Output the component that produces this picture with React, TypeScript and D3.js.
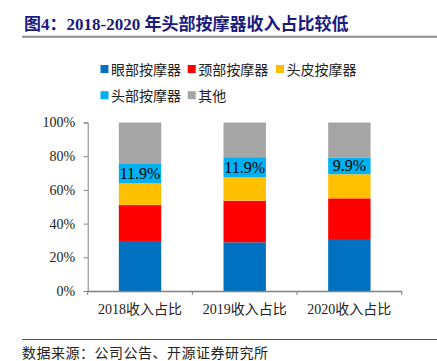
import { useEffect, useRef } from 'react'
import * as d3 from 'd3'

const categories = ['2018收入占比', '2019收入占比', '2020收入占比']
const seriesNames = ['眼部按摩器', '颈部按摩器', '头皮按摩器', '头部按摩器', '其他']
const eyeValues = [29.7, 28.9, 30.3]
const neckValues = [21.3, 24.7, 24.7]
const scalpValues = [12.9, 13.9, 14.3]
const headValues = [11.9, 11.9, 9.9]
const otherValues = [24.2, 20.6, 20.8]
const headLabels = ['11.9%', '11.9%', '9.9%']
const yTicks = [0, 20, 40, 60, 80, 100]

const COLORS = ['#0070C0', '#FF0000', '#FFC000', '#00B0F0', '#A5A5A5']
const SERIF = '"Liberation Serif", "Times New Roman", "Noto Sans CJK SC", serif'

export default function App() {
  const svgRef = useRef<SVGSVGElement>(null)

  useEffect(() => {
    if (!svgRef.current) return
    const svg = d3.select(svgRef.current)
    svg.selectAll('*').remove()

    const W = 437
    const H = 361
    const plot = { left: 87.7, right: 401.7, top: 122.5, bottom: 291 }

    // Title
    svg.append('text').attr('x', 24).attr('y', 30)
      .attr('fill', '#1a1a80').attr('font-size', 17).attr('font-weight', 'bold')
      .attr('font-family', SERIF).text('图4：2018-2020 年头部按摩器收入占比较低')
    svg.append('line').attr('x1', 22).attr('x2', W).attr('y1', 36.7).attr('y2', 36.7)
      .attr('stroke', '#8c8c8c').attr('stroke-width', 2)

    // Legend
    const legendItems = [
      { i: 0, x: 100.5, y: 69.5 },
      { i: 1, x: 187.7, y: 69.5 },
      { i: 2, x: 276, y: 69.5 },
      { i: 3, x: 100.5, y: 95.7 },
      { i: 4, x: 187.7, y: 95.7 },
    ]
    const leg = svg.append('g')
    legendItems.forEach(d => {
      leg.append('rect').attr('x', d.x).attr('y', d.y - 4.5).attr('width', 8).attr('height', 8)
        .attr('fill', COLORS[d.i])
      leg.append('text').attr('x', d.x + 10.5).attr('y', d.y + 5)
        .attr('font-size', 14).attr('font-family', SERIF).attr('fill', '#222')
        .text(seriesNames[d.i])
    })

    const x = d3.scaleBand<string>().domain(categories).range([plot.left, plot.right]).padding(0)
    const y = d3.scaleLinear().domain([0, 100]).range([plot.bottom, plot.top])

    const table = categories.map((c, i) => ({
      cat: c,
      s0: eyeValues[i], s1: neckValues[i], s2: scalpValues[i], s3: headValues[i], s4: otherValues[i],
    }))
    const stack = d3.stack<typeof table[number]>().keys(['s0', 's1', 's2', 's3', 's4'])
    const layers = stack(table)

    const barW = x.bandwidth() * 0.405
    const g = svg.append('g')
    layers.forEach((layer, li) => {
      g.selectAll(null).data(layer).enter().append('rect')
        .attr('x', d => x(d.data.cat)! + (x.bandwidth() - barW) / 2)
        .attr('width', barW)
        .attr('y', d => y(d[1]))
        .attr('height', d => y(d[0]) - y(d[1]))
        .attr('fill', COLORS[li])
    })

    // Labels on head massager segment
    const headLayer = layers[3]
    g.selectAll(null).data(headLayer).enter().append('text')
      .attr('x', d => x(d.data.cat)! + x.bandwidth() / 2)
      .attr('y', d => (y(d[0]) + y(d[1])) / 2 + 5.5)
      .attr('text-anchor', 'middle').attr('font-size', 16).attr('font-family', SERIF)
      .attr('fill', '#000')
      .text((_, i) => headLabels[i])

    // Y axis
    const yAxis = svg.append('g').attr('transform', `translate(${plot.left},0)`)
      .call(d3.axisLeft(y).tickValues(yTicks).tickSize(4).tickFormat(d => `${d}%`))
    yAxis.select('.domain').attr('stroke', '#808080')
    yAxis.selectAll('.tick line').attr('stroke', '#808080')
    yAxis.selectAll('.tick text').attr('font-size', 14).attr('font-family', SERIF)
      .attr('fill', '#222').attr('x', -12.5)

    // X axis
    const xAxis = svg.append('g').attr('transform', `translate(0,${plot.bottom})`)
      .call(d3.axisBottom(x).tickSize(0).tickSizeOuter(0))
    xAxis.select('.domain').attr('stroke', '#808080').attr('stroke-width', 1.5)
    xAxis.selectAll('.tick text').attr('font-size', 14).attr('font-family', SERIF)
      .attr('fill', '#222').attr('dy', 0).attr('y', 23)
    const bounds = categories.map(c => x(c)!).concat([x(categories[categories.length - 1])! + x.bandwidth()])
    xAxis.selectAll(null).data(bounds).enter().append('line')
      .attr('x1', d => d).attr('x2', d => d).attr('y1', 0).attr('y2', 4)
      .attr('stroke', '#808080')

    // Footer
    svg.append('line').attr('x1', 22).attr('x2', W).attr('y1', 339.5).attr('y2', 339.5)
      .attr('stroke', '#555').attr('stroke-width', 1)
    svg.append('text').attr('x', 22).attr('y', 357.5)
      .attr('font-size', 14).attr('font-family', SERIF).attr('fill', '#222')
      .attr('letter-spacing', 0.5)
      .text('数据来源：公司公告、开源证券研究所')

    svg.attr('width', W).attr('height', H)
  }, [])

  return (
    <div style={{ position: 'absolute', left: 0, top: 0 }}>
      <svg ref={svgRef} width={437} height={361} style={{ display: 'block', background: '#fff' }} />
    </div>
  )
}
